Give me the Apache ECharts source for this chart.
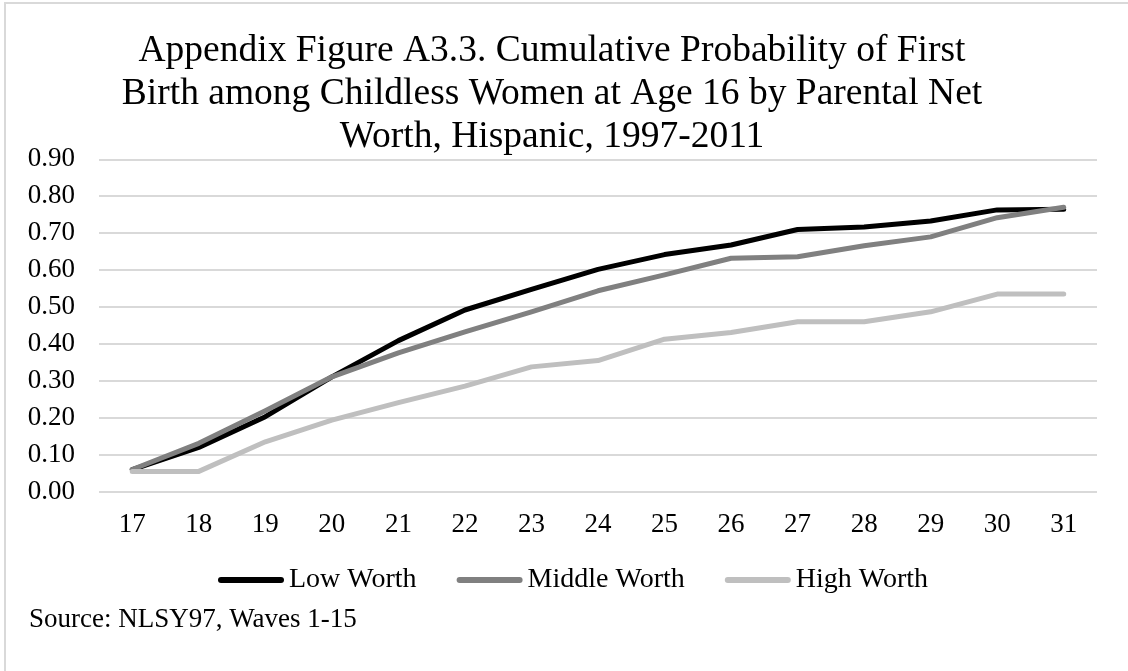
<!DOCTYPE html>
<html>
<head>
<meta charset="utf-8">
<script src="https://cdn.jsdelivr.net/npm/echarts@6/dist/echarts.min.js"></script>
<style>
  html, body { margin: 0; padding: 0; background: #ffffff; }
  #chart { width: 1128px; height: 671px; }
</style>
</head>
<body>
<div id="chart"></div>
<script>
// Age at which the first birth is observed
const ages = ['17', '18', '19', '20', '21', '22', '23', '24', '25', '26', '27', '28', '29', '30', '31'];

// Cumulative probability of first birth, by parental net worth group
const lowWorth    = [0.060, 0.120, 0.203, 0.311, 0.409, 0.492, 0.548, 0.602, 0.642, 0.668, 0.710, 0.717, 0.733, 0.763, 0.765];
const middleWorth = [0.060, 0.131, 0.219, 0.311, 0.376, 0.433, 0.487, 0.544, 0.587, 0.632, 0.636, 0.666, 0.690, 0.742, 0.770];
const highWorth   = [0.055, 0.055, 0.135, 0.194, 0.241, 0.286, 0.338, 0.355, 0.413, 0.431, 0.460, 0.460, 0.487, 0.535, 0.535];

const seriesNames = ['Low Worth', 'Middle Worth', 'High Worth'];
const seriesColors = ['#000000', '#808080', '#bfbfbf'];

const titleLines = [
  'Appendix Figure A3.3. Cumulative Probability of First',
  'Birth among Childless Women at Age 16 by Parental Net',
  'Worth, Hispanic, 1997-2011'
];
const sourceNote = 'Source: NLSY97, Waves 1-15';

const FONT = '"Liberation Serif", "Times New Roman", serif';
const chart = echarts.init(document.getElementById('chart'), null, { renderer: 'canvas' });

const values = [lowWorth, middleWorth, highWorth];

function lineSeries(i) {
  return {
    name: seriesNames[i],
    type: 'line',
    data: values[i],
    symbol: 'none',
    smooth: false,
    color: seriesColors[i],
    lineStyle: { width: 5, color: seriesColors[i], cap: 'round', join: 'round' },
    emphasis: { disabled: true },
    animation: false
  };
}

chart.setOption({
  backgroundColor: '#ffffff',
  animation: false,
  textStyle: { fontFamily: FONT },
  grid: { left: 99, right: 31, top: 159.3, bottom: 179.3, containLabel: false },
  xAxis: {
    type: 'category',
    data: ages,
    boundaryGap: true,
    axisLine: { show: false },
    axisTick: { show: false },
    axisLabel: { color: '#000000', fontFamily: FONT, fontSize: 27, margin: 20 },
    splitLine: { show: false }
  },
  yAxis: {
    type: 'value',
    min: 0,
    max: 0.9,
    interval: 0.1,
    axisLine: { show: false },
    axisTick: { show: false },
    axisLabel: {
      color: '#000000', fontFamily: FONT, fontSize: 27, margin: 24,
      formatter: v => v.toFixed(2)
    },
    splitLine: { show: true, lineStyle: { color: '#d9d9d9', width: 2 } }
  },
  legend: {
    data: seriesNames,
    left: 218,
    top: 566,
    padding: 0,
    itemWidth: 66,
    itemHeight: 6,
    itemGap: 40,
    icon: 'path://M3,0 H63 A3,3 0 0 1 63,6 H3 A3,3 0 0 1 3,0 Z',
    textStyle: { color: '#000000', fontFamily: FONT, fontSize: 28 },
    selectedMode: false
  },
  graphic: [
    {
      type: 'rect',
      shape: { x: 5, y: 3, width: 1300, height: 900 },
      style: { fill: 'none', stroke: '#d9d9d9', lineWidth: 2 },
      silent: true, z: 0
    },
    {
      type: 'text',
      x: 552, y: 30,
      style: {
        text: titleLines.join('\n'),
        font: '37.5px ' + FONT,
        fill: '#000000',
        textAlign: 'center',
        textVerticalAlign: 'top',
        lineHeight: 43
      },
      silent: true
    },
    {
      type: 'text',
      x: 29, y: 620,
      style: {
        text: sourceNote,
        font: '27px ' + FONT,
        fill: '#000000',
        textAlign: 'left',
        textVerticalAlign: 'middle'
      },
      silent: true
    }
  ],
  series: [lineSeries(0), lineSeries(1), lineSeries(2)]
});
</script>
</body>
</html>
